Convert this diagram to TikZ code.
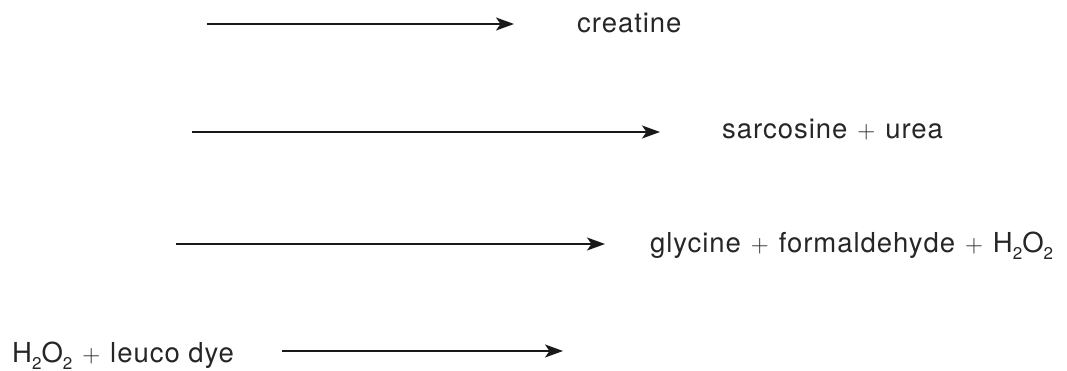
\documentclass[tikz,border=0pt]{standalone}
\usepackage{fontspec}
\setmainfont{TeX Gyre Heros}[LetterSpace=3.5]
\usetikzlibrary{arrows.meta}
\newcommand{\sbs}[1]{\raisebox{-0.27em}{\fontsize{17}{17}\selectfont #1}}
\newcommand{\pls}{\hspace{0.05em}{\fontsize{27.5}{30}\selectfont$+$}\hspace{0.05em}}
\begin{document}
\begin{tikzpicture}[x=1pt,y=-1pt,
  lbl/.style={inner sep=0pt,anchor=base west,text=black!85,font=\fontsize{27.5}{30}\selectfont},
  rx/.style={line width=1.9pt,black!90,-{Stealth[length=18pt,width=13pt,inset=4.5pt]}}]
\useasboundingbox (0,0) rectangle (1067,371);
\node[lbl] (p1) at (577,33) {creatine};
\node[lbl] (p2) at (722,139) {sarcosine \pls{} urea};
\node[lbl] (p3) at (650,252) {glycine \pls{} formaldehyde \pls{} H\sbs{2}O\sbs{2}};
\node[lbl] (r4) at (12,362) {H\sbs{2}O\sbs{2} \pls{} leuco dye};
\coordinate (s1) at (207,24);
\coordinate (e1) at (514,24);
\coordinate (s2) at (192,132);
\coordinate (e2) at (660,132);
\coordinate (s3) at (176,244);
\coordinate (e3) at (605,244);
\coordinate (s4) at (282,351);
\coordinate (e4) at (563,351);
\draw[rx] (s1) -- (e1);
\draw[rx] (s2) -- (e2);
\draw[rx] (s3) -- (e3);
\draw[rx] (s4) -- (e4);
\end{tikzpicture}
\end{document}
